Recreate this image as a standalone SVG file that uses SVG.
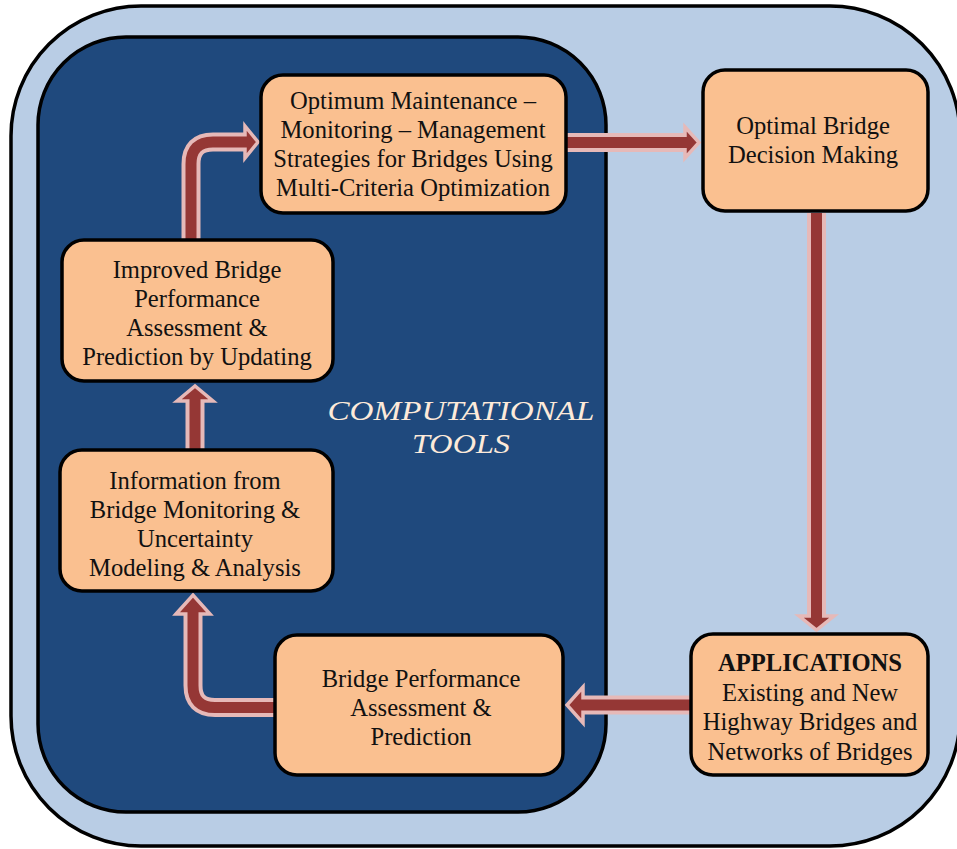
<svg xmlns="http://www.w3.org/2000/svg" width="957" height="849" viewBox="0 0 957 849">
  <style>
    .frame { stroke: #000; stroke-width: 3.5; }
    .node rect { fill: #FAC090; stroke: #000; stroke-width: 3.5; }
    .node text { font-family: "Liberation Serif", "Times New Roman", serif; font-size: 24.6px; fill: #111; text-anchor: middle; }
    .sh-out { fill: none; stroke: #E6B9B8; stroke-width: 19; stroke-linejoin: round; }
    .sh-in { fill: none; stroke: #953735; stroke-width: 11; stroke-linejoin: round; }
    .hd { fill: #953735; stroke: #E6B9B8; stroke-width: 3.5; stroke-linejoin: miter; }
    .title { font-family: "Liberation Serif", "Times New Roman", serif; font-style: italic; font-size: 28px; fill: #FDEADA; text-anchor: middle; }
  </style>

  <!-- background panels -->
  <rect class="frame" x="11" y="6" width="949" height="840" rx="130" ry="130" fill="#B9CDE5"/>
  <rect class="frame" x="38" y="37" width="568" height="775" rx="88" ry="88" fill="#1F497D"/>

  <text class="title" x="461" y="420" textLength="267" lengthAdjust="spacingAndGlyphs">COMPUTATIONAL</text>
  <text class="title" x="461" y="453" textLength="98" lengthAdjust="spacingAndGlyphs">TOOLS</text>

  <!-- connectors: block arrows -->
  <g id="connectors">
    <!-- Improved assessment -> optimization -->
    <g id="arrow-improved-optimum">
      <path class="sh-out" d="M191 240 V164 Q191 142 213 142 H248"/>
      <path class="hd" d="M245 126 L258 142 L245 158 Z"/>
      <path class="sh-in" d="M191 240 V164 Q191 142 213 142 H250"/>
    </g>
    <!-- optimization -> decision making -->
    <g id="arrow-optimum-decision">
      <path class="sh-out" d="M566 142.5 H687"/>
      <path class="hd" d="M685 127 L699 142.5 L685 158 Z"/>
      <path class="sh-in" d="M566 142.5 H689"/>
    </g>
    <!-- decision making -> applications -->
    <g id="arrow-decision-applications">
      <path class="sh-out" d="M816.5 213 V617"/>
      <path class="hd" d="M799 616 L816.5 630 L834 616 Z"/>
      <path class="sh-in" d="M816.5 213 V619"/>
    </g>
    <!-- applications -> performance assessment -->
    <g id="arrow-applications-performance">
      <path class="sh-out" d="M690 705 H581"/>
      <path class="hd" d="M583 687 L567 705 L583 723 Z"/>
      <path class="sh-in" d="M690 705 H579"/>
    </g>
    <!-- performance assessment -> monitoring information -->
    <g id="arrow-performance-information">
      <path class="sh-out" d="M275 707.5 H215 Q193 707.5 193 685.5 V613"/>
      <path class="hd" d="M176 614 L193 595 L210 614 Z"/>
      <path class="sh-in" d="M275 707.5 H215 Q193 707.5 193 685.5 V611"/>
    </g>
    <!-- monitoring information -> improved assessment -->
    <g id="arrow-information-improved">
      <path class="sh-out" d="M195 450 V400"/>
      <path class="hd" d="M177 401 L195 386 L213 401 Z"/>
      <path class="sh-in" d="M195 450 V398"/>
    </g>
  </g>

  <g id="node-optimum" class="node">
    <rect x="261" y="75" width="305" height="138" rx="22" ry="22"/>
    <text x="413" y="109">Optimum Maintenance –</text>
    <text x="413" y="138">Monitoring – Management</text>
    <text x="413" y="167">Strategies for Bridges Using</text>
    <text x="413" y="196">Multi-Criteria Optimization</text>
  </g>

  <g id="node-decision" class="node">
    <rect x="703" y="70" width="225" height="141" rx="22" ry="22"/>
    <text x="813" y="134">Optimal Bridge</text>
    <text x="813" y="163">Decision Making</text>
  </g>

  <g id="node-improved" class="node">
    <rect x="62" y="240" width="271" height="141" rx="22" ry="22"/>
    <text x="197" y="278">Improved Bridge</text>
    <text x="197" y="307">Performance</text>
    <text x="197" y="336">Assessment &amp;</text>
    <text x="197" y="365">Prediction by Updating</text>
  </g>

  <g id="node-information" class="node">
    <rect x="60" y="450" width="273" height="141" rx="22" ry="22"/>
    <text x="195" y="489">Information from</text>
    <text x="195" y="518">Bridge Monitoring &amp;</text>
    <text x="195" y="547">Uncertainty</text>
    <text x="195" y="576">Modeling &amp; Analysis</text>
  </g>

  <g id="node-performance" class="node">
    <rect x="275" y="635" width="288" height="140" rx="22" ry="22"/>
    <text x="421" y="687">Bridge Performance</text>
    <text x="421" y="716">Assessment &amp;</text>
    <text x="421" y="745">Prediction</text>
  </g>

  <g id="node-applications" class="node">
    <rect x="691" y="634" width="237" height="141" rx="22" ry="22"/>
    <text x="810" y="671" font-weight="bold">APPLICATIONS</text>
    <text x="810" y="701">Existing and New</text>
    <text x="810" y="730">Highway Bridges and</text>
    <text x="810" y="760">Networks of Bridges</text>
  </g>
</svg>
